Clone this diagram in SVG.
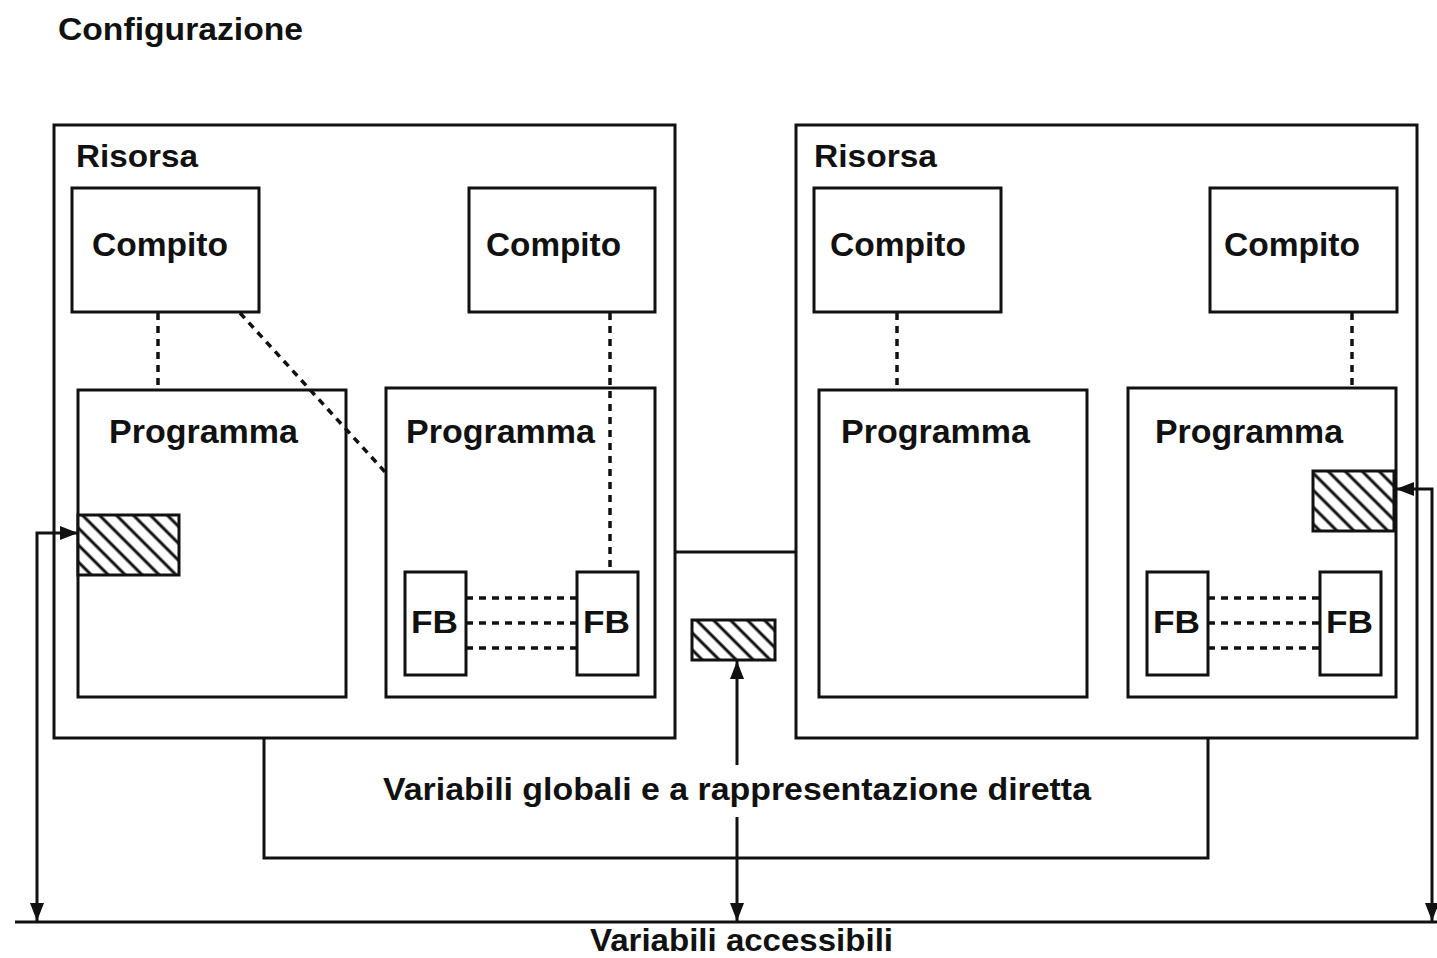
<svg xmlns="http://www.w3.org/2000/svg" width="1437" height="958" viewBox="0 0 1437 958">
  <defs>
    <style>
      .box { fill: #fff; stroke: #111; stroke-width: 3; }
      .frame { fill: none; stroke: #111; stroke-width: 3; }
      .line { fill: none; stroke: #111; stroke-width: 3; }
      .dot { fill: none; stroke: #111; stroke-width: 3.5; stroke-dasharray: 7 6; }
      .hatch { fill: url(#hatch); stroke: #111; stroke-width: 3; }
      text { font-family: "Liberation Sans", Arial, sans-serif; font-weight: bold; fill: #111; }
      .t30 { font-size: 31px; }
      .t33 { font-size: 33px; }
    </style>
    <pattern id="hatch" patternUnits="userSpaceOnUse" width="12" height="12" patternTransform="rotate(-45)">
      <rect width="12" height="12" fill="#fff"/>
      <line x1="6" y1="0" x2="6" y2="12" stroke="#111" stroke-width="3"/>
    </pattern>
    <marker id="arrow" viewBox="0 0 18 14" refX="18" refY="7" markerWidth="18" markerHeight="14" markerUnits="userSpaceOnUse" orient="auto-start-reverse">
      <path d="M0,0 L18,7 L0,14 Z" fill="#111"/>
    </marker>
  </defs>

  <rect width="1437" height="958" fill="#fff"/>

  <text id="title" class="t30" x="58" y="40" textLength="245" lengthAdjust="spacingAndGlyphs">Configurazione</text>

  <!-- global / directly represented variables bracket -->
  <g id="global-vars">
    <polyline class="frame" points="264,738 264,858 1208,858 1208,738"/>
    <text class="t30" x="383" y="800" textLength="708" lengthAdjust="spacingAndGlyphs">Variabili globali e a rappresentazione diretta</text>
  </g>

  <!-- left resource -->
  <g id="resource-left">
    <rect class="box" x="54" y="125" width="621" height="613"/>
    <text class="t30" x="76" y="167" textLength="122" lengthAdjust="spacingAndGlyphs">Risorsa</text>
  </g>
  <g id="task-l1">
    <rect class="box" x="72" y="188" width="187" height="124"/>
    <text class="t33" x="92" y="256" textLength="136" lengthAdjust="spacingAndGlyphs">Compito</text>
  </g>
  <g id="task-l2">
    <rect class="box" x="469" y="188" width="186" height="124"/>
    <text class="t33" x="486" y="256" textLength="135" lengthAdjust="spacingAndGlyphs">Compito</text>
  </g>
  <g id="program-l1">
    <rect class="box" x="78" y="390" width="268" height="307"/>
    <text class="t33" x="109" y="443" textLength="189" lengthAdjust="spacingAndGlyphs">Programma</text>
  </g>
  <g id="program-l2">
    <rect class="box" x="386" y="388" width="269" height="309"/>
    <text class="t33" x="406" y="443" textLength="189" lengthAdjust="spacingAndGlyphs">Programma</text>
  </g>
  <g id="fb-l1">
    <rect class="box" x="405" y="572" width="61" height="103"/>
    <text class="t30" x="411" y="633" textLength="47" lengthAdjust="spacingAndGlyphs">FB</text>
  </g>
  <g id="fb-l2">
    <rect class="box" x="577" y="572" width="61" height="103"/>
    <text class="t30" x="583" y="633" textLength="47" lengthAdjust="spacingAndGlyphs">FB</text>
  </g>
  <g id="var-l">
    <rect class="hatch" x="78" y="515" width="101" height="60"/>
  </g>

  <!-- right resource -->
  <g id="resource-right">
    <rect class="box" x="796" y="125" width="621" height="613"/>
    <text class="t30" x="814" y="167" textLength="123" lengthAdjust="spacingAndGlyphs">Risorsa</text>
  </g>
  <g id="task-r1">
    <rect class="box" x="814" y="188" width="187" height="124"/>
    <text class="t33" x="830" y="256" textLength="136" lengthAdjust="spacingAndGlyphs">Compito</text>
  </g>
  <g id="task-r2">
    <rect class="box" x="1210" y="188" width="187" height="124"/>
    <text class="t33" x="1224" y="256" textLength="136" lengthAdjust="spacingAndGlyphs">Compito</text>
  </g>
  <g id="program-r1">
    <rect class="box" x="819" y="390" width="268" height="307"/>
    <text class="t33" x="841" y="443" textLength="189" lengthAdjust="spacingAndGlyphs">Programma</text>
  </g>
  <g id="program-r2">
    <rect class="box" x="1128" y="388" width="268" height="309"/>
    <text class="t33" x="1155" y="443" textLength="188" lengthAdjust="spacingAndGlyphs">Programma</text>
  </g>
  <g id="fb-r1">
    <rect class="box" x="1147" y="572" width="61" height="103"/>
    <text class="t30" x="1153" y="633" textLength="47" lengthAdjust="spacingAndGlyphs">FB</text>
  </g>
  <g id="fb-r2">
    <rect class="box" x="1320" y="572" width="61" height="103"/>
    <text class="t30" x="1326" y="633" textLength="47" lengthAdjust="spacingAndGlyphs">FB</text>
  </g>
  <g id="var-r">
    <rect class="hatch" x="1313" y="471" width="81" height="60"/>
  </g>

  <!-- configuration-level variable -->
  <g id="var-c">
    <rect class="hatch" x="692" y="620" width="83" height="40"/>
  </g>

  <!-- access path bus -->
  <g id="access-bus">
    <line class="line" x1="15" y1="922" x2="1437" y2="922"/>
    <text class="t30" x="590" y="951" textLength="303" lengthAdjust="spacingAndGlyphs">Variabili accessibili</text>
  </g>

  <g id="connectors">
    <!-- task to program associations -->
    <line class="dot" x1="158" y1="313" x2="158" y2="390"/>
    <line class="dot" x1="240" y1="313" x2="386" y2="473"/>
    <line class="dot" x1="610" y1="313" x2="610" y2="572"/>
    <line class="dot" x1="897" y1="313" x2="897" y2="390"/>
    <line class="dot" x1="1352" y1="313" x2="1352" y2="388"/>
    <!-- FB data flows -->
    <line class="dot" x1="466" y1="598" x2="577" y2="598"/>
    <line class="dot" x1="466" y1="623" x2="577" y2="623"/>
    <line class="dot" x1="466" y1="648" x2="577" y2="648"/>
    <line class="dot" x1="1208" y1="598" x2="1320" y2="598"/>
    <line class="dot" x1="1208" y1="623" x2="1320" y2="623"/>
    <line class="dot" x1="1208" y1="648" x2="1320" y2="648"/>
    <!-- link between resources -->
    <line class="line" x1="675" y1="552" x2="796" y2="552"/>
    <!-- access paths -->
    <polyline class="line" points="37,921 37,533 78,533" marker-start="url(#arrow)" marker-end="url(#arrow)"/>
    <polyline class="line" points="1432,921 1432,489 1396,489" marker-start="url(#arrow)" marker-end="url(#arrow)"/>
    <line class="line" x1="737" y1="765" x2="737" y2="661" marker-end="url(#arrow)"/>
    <line class="line" x1="737" y1="817" x2="737" y2="921" marker-end="url(#arrow)"/>
  </g>
</svg>
